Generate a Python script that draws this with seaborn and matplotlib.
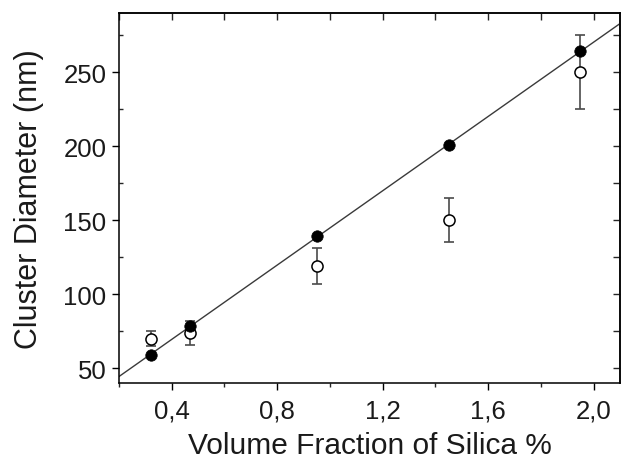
import numpy as np
import pandas as pd
import seaborn as sns
import matplotlib
matplotlib.use("Agg")
import matplotlib.pyplot as plt
from matplotlib.ticker import MultipleLocator, FuncFormatter

# Data
x_filled = [0.32, 0.47, 0.95, 1.45, 1.95]
y_filled = [59, 78.5, 139, 201, 264]
x_open = [0.32, 0.47, 0.95, 1.45, 1.95]
y_open = [70, 74, 119, 150, 250]
err_open = [5, 8, 12, 15, 25]

x_label = "Volume Fraction of Silica %"
y_label = "Cluster Diameter (nm)"

sns.set_theme(style="ticks")
plt.rcParams['font.family'] = ['Liberation Sans', 'DejaVu Sans']

fig = plt.figure(figsize=(6.22, 4.64), dpi=100)
ax = fig.add_axes([119/622, 1-384/464, (620-119)/622, (384-14)/464])
ax.set_xlim(0.2, 2.1)
ax.set_ylim(40, 290)

df_f = pd.DataFrame({"x": x_filled, "y": y_filled})
df_o = pd.DataFrame({"x": x_open, "y": y_open, "e": err_open})

sns.regplot(data=df_f, x="x", y="y", ax=ax, scatter=False, ci=None,
            truncate=False, line_kws=dict(color="#3a3a3a", lw=1.0, zorder=2))

ax.errorbar(df_o["x"], df_o["y"], yerr=df_o["e"], fmt="none", ecolor="#4a4a4a",
            elinewidth=1.2, capsize=3.5, capthick=1.2, zorder=3)
sns.scatterplot(data=df_o, x="x", y="y", ax=ax, marker="o", s=64,
                facecolor="white", edgecolor="black", linewidth=1.1, zorder=4)
sns.scatterplot(data=df_f, x="x", y="y", ax=ax, marker="o", s=68,
                color="black", edgecolor="black", linewidth=0.5, zorder=5)

ax.set_xlim(0.2, 2.1)
ax.set_ylim(40, 290)

ax.xaxis.set_major_locator(MultipleLocator(0.4))
ax.xaxis.set_minor_locator(MultipleLocator(0.2))
ax.yaxis.set_major_locator(MultipleLocator(50))
ax.yaxis.set_minor_locator(MultipleLocator(25))
ax.xaxis.set_major_formatter(FuncFormatter(lambda v, p: f"{v:.1f}".replace(".", ",")))
ax.set_xticks([0.4, 0.8, 1.2, 1.6, 2.0])

for s in ax.spines.values():
    s.set_color("black")
    s.set_linewidth(1.1)

ax.tick_params(axis="both", which="major", direction="out", length=5, width=1.0,
               labelsize=18.5, colors="black", labelcolor="#1a1a1a", pad=4)
ax.tick_params(axis="both", which="minor", direction="out", length=3, width=1.0)
ax.tick_params(axis="y", which="minor", direction="in")
ax.tick_params(axis="x", which="major", pad=6)

axt = ax.secondary_xaxis("top")
axt.xaxis.set_major_locator(MultipleLocator(0.2))
axt.tick_params(direction="in", length=5, width=1.0, labeltop=False)
axr = ax.secondary_yaxis("right")
axr.yaxis.set_major_locator(MultipleLocator(25))
axr.tick_params(direction="in", length=5, width=1.0, labelright=False)

ax.set_xlabel(x_label, fontsize=21.5, labelpad=6, color="#1a1a1a")
ax.set_ylabel(y_label, fontsize=22, labelpad=14, color="#1a1a1a")

fig.savefig("out.png", dpi=100)
